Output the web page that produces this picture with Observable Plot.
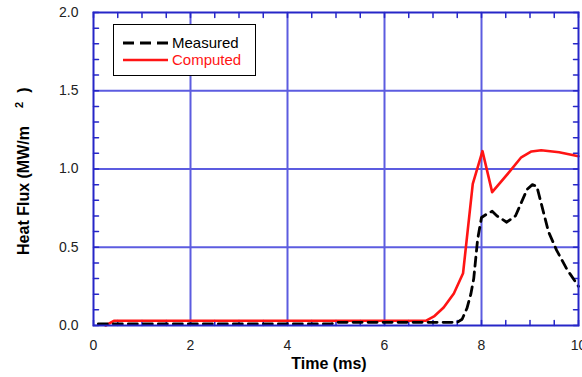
<!DOCTYPE html>
<html><head><meta charset="utf-8">
<script src="https://cdn.jsdelivr.net/npm/d3@7"></script>
<script src="https://cdn.jsdelivr.net/npm/@observablehq/plot@0.6"></script>
<style>
body{margin:0;background:#fff;font-family:"Liberation Sans",Arial,sans-serif;}
#wrap{position:relative;width:582px;height:377px;}
#legend{position:absolute;left:113px;top:24px;width:143px;height:52px;border:1px solid #000;background:#fff;box-sizing:border-box;}
</style></head><body>
<div id="wrap"><div id="chart"></div><div id="legend"></div></div>
<script>
// Measured heat flux (black dashed)
const measuredT = [0.1, 4.9, 5.0, 7.5, 7.6, 7.7, 7.78, 7.84, 7.92, 8.0, 8.1, 8.22, 8.32, 8.52, 8.7, 8.94, 9.05, 9.14, 9.38, 9.55, 9.76, 10.0];
const measuredV = [0.01, 0.01, 0.02, 0.02, 0.04, 0.11, 0.2, 0.3, 0.55, 0.69, 0.71, 0.73, 0.70, 0.66, 0.70, 0.87, 0.90, 0.89, 0.60, 0.48, 0.36, 0.25];
// Computed heat flux (red solid)
const computedT = [0.25, 0.42, 6.85, 7.02, 7.22, 7.43, 7.62, 7.82, 8.02, 8.22, 8.57, 8.82, 9.03, 9.23, 9.6, 10.0];
const computedV = [0.0, 0.03, 0.03, 0.058, 0.115, 0.205, 0.334, 0.905, 1.114, 0.852, 0.98, 1.075, 1.112, 1.12, 1.107, 1.082];
// Axis ticks
const xMajor = [0, 2, 4, 6, 8, 10];
const xGrid = [2, 4, 6, 8];
const xMinor = d3.range(0, 10.001, 0.5);
const yMajor = [0, 0.5, 1.0, 1.5, 2.0];
const yGrid = [0.5, 1.0, 1.5];
const yMinor = d3.range(0, 2.001, 0.1);
const seriesNames = ["Measured", "Computed"];
const xTitle = "Time (ms)";
const yTitleMain = "Heat Flux (MW/m";

const measured = measuredT.map((t, i) => ({t, v: measuredV[i]}));
const computed = computedT.map((t, i) => ({t, v: computedV[i]}));

const frameBlue = "#2626c8";
const gridBlue = "#5c5ce0";
const font = "Liberation Sans, Arial, sans-serif";
const tickShape = {draw(context, l) { context.moveTo(0, 0); context.lineTo(0, -l); }};
const tickOpts = {length: 5, anchor: "start", shape: tickShape, stroke: frameBlue, strokeWidth: 1.5};

const plot = Plot.plot({
  width: 582, height: 377,
  marginLeft: 93, marginRight: 4, marginTop: 12, marginBottom: 52,
  style: {fontFamily: font, fontSize: "14px", background: "#fff", color: "#222"},
  x: {domain: [0, 10], label: null},
  y: {domain: [0, 2], label: null},
  marks: [
    Plot.gridX(xGrid, {stroke: gridBlue, strokeOpacity: 1, strokeWidth: 2}),
    Plot.gridY(yGrid, {stroke: gridBlue, strokeOpacity: 1, strokeWidth: 2}),
    Plot.vector(xMinor, {x: d => d, frameAnchor: "bottom", rotate: 0, ...tickOpts}),
    Plot.vector(xMinor, {x: d => d, frameAnchor: "top", rotate: 180, ...tickOpts}),
    Plot.vector(yMinor, {y: d => d, frameAnchor: "left", rotate: 90, ...tickOpts}),
    Plot.vector(yMinor, {y: d => d, frameAnchor: "right", rotate: -90, ...tickOpts}),
    Plot.axisX(xMajor, {anchor: "bottom", tickSize: 0, tickPadding: 15, label: null, fill: "#222", fontSize: 14}),
    Plot.axisY(yMajor, {anchor: "left", tickSize: 0, tickPadding: 15, label: null, fill: "#222", fontSize: 14, tickFormat: d3.format(".1f")}),
    Plot.line(computed, {x: "t", y: "v", stroke: "#ff1414", strokeWidth: 2.6}),
    Plot.line(measured, {x: "t", y: "v", stroke: "#000", strokeWidth: 2.8, strokeDasharray: "9,6"}),
    Plot.frame({stroke: frameBlue, strokeWidth: 2}),
    Plot.text([xTitle], {frameAnchor: "bottom", textAnchor: "middle", lineAnchor: "middle", dx: -7, dy: 38, fontWeight: "bold", fontSize: 16, fill: "#000"}),
    Plot.text([yTitleMain], {frameAnchor: "left", textAnchor: "middle", lineAnchor: "middle", rotate: -90, dx: -70, dy: 21.5, fontWeight: "bold", fontSize: 16, fill: "#000"}),
    Plot.text(["2"], {frameAnchor: "left", textAnchor: "middle", lineAnchor: "middle", rotate: -90, dx: -74, dy: -64, fontWeight: "bold", fontSize: 11, fill: "#000"}),
    Plot.text([")"], {frameAnchor: "left", textAnchor: "middle", lineAnchor: "middle", rotate: -90, dx: -70, dy: -79, fontWeight: "bold", fontSize: 16, fill: "#000"})
  ]
});
document.getElementById("chart").appendChild(plot);

// Legend
const leg = d3.select("#legend").append("svg").attr("width", 141).attr("height", 50)
  .style("font-family", font);
const rows = [
  {name: seriesNames[0], color: "#000", textColor: "#000", dash: "11,6", width: 2.8, y: 18},
  {name: seriesNames[1], color: "#ff1414", textColor: "#ff1414", dash: null, width: 2.6, y: 35}
];
rows.forEach(r => {
  leg.append("line").attr("x1", 9).attr("x2", 54).attr("y1", r.y).attr("y2", r.y)
    .attr("stroke", r.color).attr("stroke-width", r.width).attr("stroke-dasharray", r.dash);
  leg.append("text").attr("x", 58).attr("y", r.y).attr("dy", "0.35em")
    .attr("font-size", 15).attr("fill", r.textColor).text(r.name);
});
</script>
</body></html>
